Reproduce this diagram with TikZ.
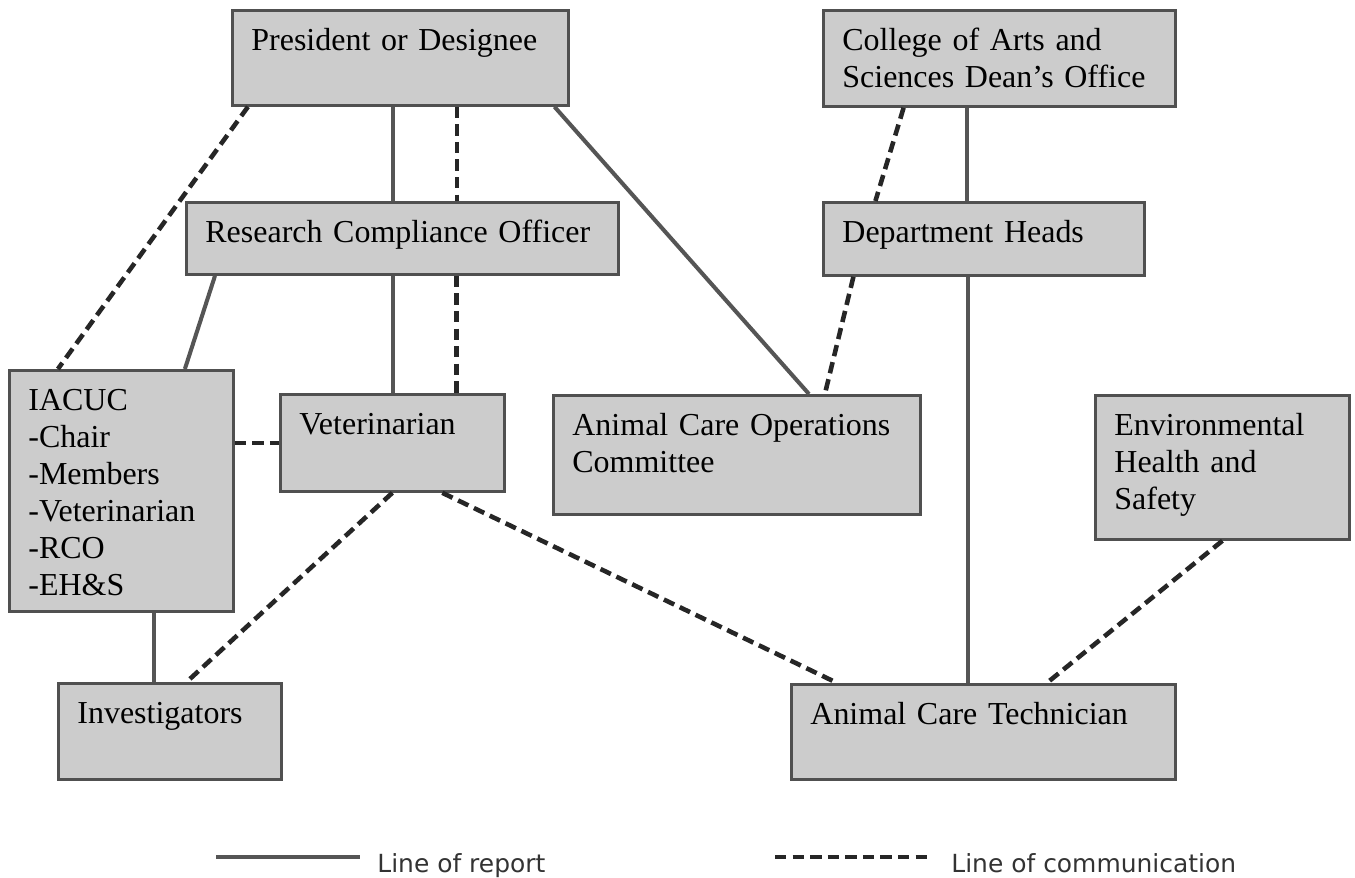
\documentclass[tikz,border=0pt]{standalone}
\usepackage{fontspec}
\setmainfont{Liberation Serif}
\newfontfamily\legendfont{DejaVu Sans}
\usetikzlibrary{calc}
\definecolor{boxfill}{RGB}{204,204,204}
\definecolor{boxline}{RGB}{80,80,80}
\definecolor{repline}{RGB}{85,85,85}
\definecolor{comline}{RGB}{38,38,38}
\begin{document}
\begin{tikzpicture}[x=0.02cm, y=-0.02cm,
    box/.style={draw=boxline, fill=boxfill, line width=1.6pt, anchor=north west,
        inner xsep=0.38cm, inner ysep=0pt, align=left, text height=0.8cm,
        font=\fontsize{18.2}{21.1}\selectfont},
    report/.style={draw=repline, line width=2.3pt},
    comm/.style={draw=comline, line width=2.6pt, dash pattern=on 6.5pt off 3.5pt},
    legend/.style={font=\legendfont\fontsize{14.2}{17}\selectfont, text=black!80,
        anchor=base west, inner sep=0pt}]
\useasboundingbox (0,0) rectangle (1355,878);

\node[box, text width=5.96cm, text depth=1.1cm] (pres) at (231,9) {President or Designee};
\node[box, text width=7.88cm, text depth=0.64cm] (rco) at (185,201) {Research Compliance Officer};
\node[box, text width=6.28cm, text depth=1.12cm] (dean) at (822,9) {College of Arts and\\Sciences Dean's Office};
\node[box, text width=5.66cm, text depth=0.66cm] (dept) at (822,201) {Department Heads};
\node[box, text width=3.72cm, text depth=4.02cm] (iacuc) at (8,369) {IACUC\\-Chair\\-Members\\-Veterinarian\\-RCO\\-EH\&S};
\node[box, text width=3.72cm, text depth=1.14cm] (vet) at (279,393) {Veterinarian};
\node[box, text width=6.58cm, text depth=1.58cm] (acoc) at (552,394) {Animal Care Operations\\Committee};
\node[box, text width=4.32cm, text depth=2.08cm] (ehs) at (1094,394) {Environmental\\Health and\\Safety};
\node[box, text width=3.7cm, text depth=1.12cm] (inv) at (57,682) {Investigators};
\node[box, text width=6.92cm, text depth=1.1cm] (act) at (790,683) {Animal Care Technician};

% lines of report
\draw[report] ($(pres.south west)!.479!(pres.south east)$) coordinate (pv) -- (pv |- rco.north);
\draw[report] ($(rco.south west)!.479!(rco.south east)$) coordinate (rv) -- (rv |- vet.north);
\draw[report] ($(pres.south west)!.955!(pres.south east)$) -- ($(acoc.north west)!.695!(acoc.north east)$);
\draw[report] ($(rco.south west)!.069!(rco.south east)$) -- ($(iacuc.north west)!.78!(iacuc.north east)$);
\draw[report] ($(dean.south west)!.409!(dean.south east)$) coordinate (dv) -- (dv |- dept.north);
\draw[report] ($(dept.south west)!.452!(dept.south east)$) coordinate (hv) -- (hv |- act.north);
\draw[report] ($(iacuc.south west)!.643!(iacuc.south east)$) coordinate (iv) -- (iv |- inv.north);

% lines of communication
\draw[comm] ($(pres.south west)!.05!(pres.south east)$) -- ($(iacuc.north west)!.22!(iacuc.north east)$);
\draw[comm] ($(pres.south west)!.667!(pres.south east)$) coordinate (pd) -- (pd |- rco.north);
\draw[comm] ($(rco.south west)!.625!(rco.south east)$) coordinate (rd) -- (rd |- vet.north);
\draw[comm] (iacuc.east |- vet.west) -- (vet.west);
\draw[comm] ($(dean.south west)!.23!(dean.south east)$) -- ($(dept.north west)!.165!(dept.north east)$);
\draw[comm] ($(dept.south west)!.097!(dept.south east)$) -- ($(acoc.north west)!.738!(acoc.north east)$);
\draw[comm] (vet.south) -- ($(inv.north west)!.574!(inv.north east)$);
\draw[comm] ($(vet.south west)!.72!(vet.south east)$) -- ($(act.north west)!.122!(act.north east)$);
\draw[comm] (ehs.south) -- ($(act.north west)!.664!(act.north east)$);

% legend
\coordinate (rep) at (216,857);
\draw[report] (rep) -- ++(144,0);
\node[legend] (reptxt) at (377,872) {Line of report};
\coordinate (com) at (775,857);
\draw[comm] (com) -- ++(155,0);
\node[legend] (comtxt) at (951,872) {Line of communication};
\end{tikzpicture}
\end{document}
